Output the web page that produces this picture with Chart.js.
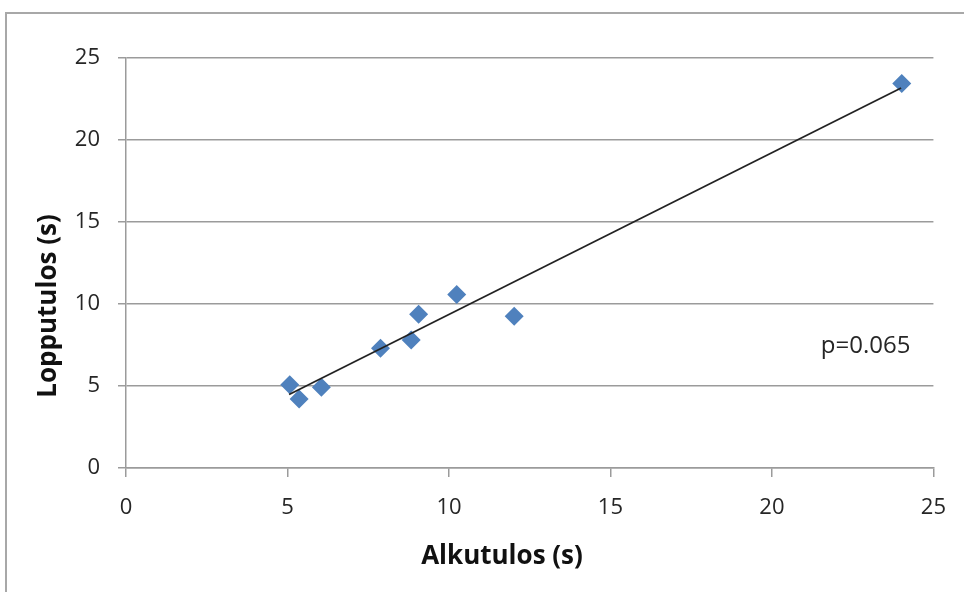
<!DOCTYPE html>
<html>
<head>
<meta charset="utf-8">
<script src="https://cdn.jsdelivr.net/npm/chart.js@4.4.1/dist/chart.umd.min.js"></script>
<style>
  html, body { margin: 0; padding: 0; background: #fff; overflow: hidden; }
  #wrap { position: relative; width: 964px; height: 592px; }
  #frame { position: absolute; left: 5px; top: 12px; width: 1100px; height: 1100px; border: 2px solid #a8a8a8; }
  #chart { position: absolute; left: 0; top: 0; }
</style>
</head>
<body>
<div id="wrap">
  <div id="frame"></div>
  <canvas id="chart" width="964" height="592"></canvas>
</div>
<script>
const alkutulos = [5.07, 5.36, 6.05, 7.88, 8.83, 9.06, 10.24, 12.02, 24.02];
const lopputulos = [5.07, 4.2, 4.93, 7.3, 7.8, 9.37, 10.58, 9.26, 23.45];

// trendline endpoints
const trendX = [5.05, 24.0];
const trendY = [4.48, 23.17];

const axisTicks = [0, 5, 10, 15, 20, 25];
const xTitle = 'Alkutulos (s)';
const yTitle = 'Lopputulos (s)';
const pNote = 'p=0.065';

const GRID = '#9b9b9b';
const TICK_FONT = { family: "'Open Sans', sans-serif", size: 22 };

const titlesPlugin = {
  id: 'titles',
  afterDraw(chart) {
    const { ctx } = chart;
    const xs = chart.scales.x;
    const ys = chart.scales.y;
    ctx.save();
    ctx.fillStyle = '#111';
    ctx.font = "bold 26px 'Open Sans', sans-serif";
    ctx.textAlign = 'center';
    ctx.textBaseline = 'alphabetic';
    ctx.fillText(xTitle, 502, 564);

    ctx.translate(56, 306);
    ctx.rotate(-Math.PI / 2);
    ctx.fillText(yTitle, 0, 0);
    ctx.restore();

    ctx.save();
    ctx.fillStyle = '#262626';
    ctx.font = "24px 'Open Sans', sans-serif";
    ctx.textAlign = 'center';
    ctx.textBaseline = 'middle';
    ctx.fillText(pNote, xs.getPixelForValue(22.9), ys.getPixelForValue(7.4));
    ctx.restore();
  },
};

const ctx = document.getElementById('chart').getContext('2d');

new Chart(ctx, {
  type: 'scatter',
  data: {
    datasets: [
      {
        label: 'trend',
        data: trendX.map((x, i) => ({ x, y: trendY[i] })),
        showLine: true,
        borderColor: '#222',
        borderWidth: 1.8,
        pointRadius: 0,
        fill: false,
      },
      {
        label: 'data',
        data: alkutulos.map((x, i) => ({ x, y: lopputulos[i] })),
        pointStyle: 'rectRot',
        pointRadius: 9.5,
        pointBackgroundColor: '#4F81BD',
        pointBorderColor: '#4F81BD',
        pointBorderWidth: 0,
      },
    ],
  },
  options: {
    responsive: false,
    animation: false,
    layout: { padding: { left: 0, right: 29, top: 58, bottom: 0 } },
    plugins: {
      legend: { display: false },
      tooltip: { enabled: false },
    },
    scales: {
      x: {
        type: 'linear',
        min: 0,
        max: 25,
        afterBuildTicks(scale) {
          scale.ticks = axisTicks.map((value) => ({ value }));
        },
        afterFit(scale) {
          scale.height = 124;
        },
        grid: { drawOnChartArea: false, drawTicks: true, tickLength: 9, color: GRID, lineWidth: 1.5 },
        border: { color: GRID, width: 1.5 },
        ticks: { font: TICK_FONT, color: '#262626', padding: 18, maxRotation: 0 },
      },
      y: {
        type: 'linear',
        min: 0,
        max: 25,
        afterBuildTicks(scale) {
          scale.ticks = axisTicks.map((value) => ({ value }));
        },
        afterFit(scale) {
          scale.width = 126;
        },
        grid: { color: GRID, lineWidth: 1.5, tickLength: 8 },
        border: { color: GRID, width: 1.5 },
        ticks: { font: TICK_FONT, color: '#262626', padding: 18 },
      },
    },
  },
  plugins: [titlesPlugin],
});
</script>
</body>
</html>
